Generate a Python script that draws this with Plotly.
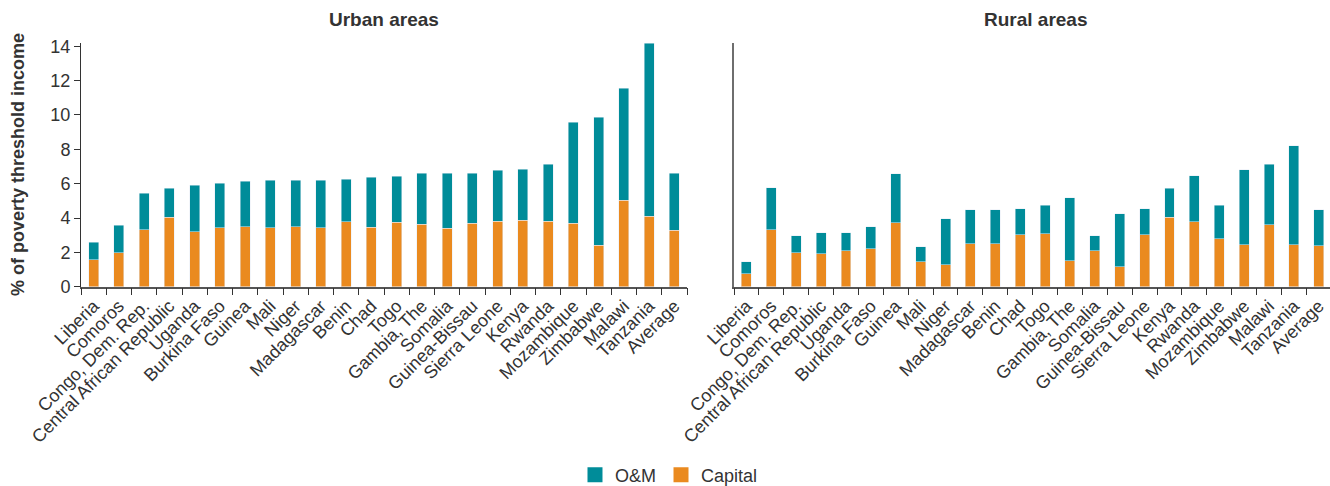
import plotly.graph_objects as go

countries_urban = ["Liberia", "Comoros", "Congo, Dem. Rep.", "Central African Republic", "Uganda",
                   "Burkina Faso", "Guinea", "Mali", "Niger", "Madagascar", "Benin", "Chad", "Togo",
                   "Gambia, The", "Somalia", "Guinea-Bissau", "Sierra Leone", "Kenya", "Rwanda",
                   "Mozambique", "Zimbabwe", "Malawi", "Tanzania", "Average"]
urban_total = [2.60, 3.59, 5.45, 5.74, 5.91, 6.03, 6.15, 6.21, 6.21, 6.21, 6.26, 6.38, 6.44,
               6.61, 6.61, 6.61, 6.79, 6.85, 7.14, 9.58, 9.87, 11.56, 14.17, 6.61]
urban_capital = [1.57, 1.98, 3.32, 4.05, 3.20, 3.43, 3.49, 3.43, 3.49, 3.43, 3.78, 3.47, 3.76,
                 3.65, 3.41, 3.70, 3.82, 3.88, 3.82, 3.70, 2.42, 5.04, 4.11, 3.30]

countries_rural = countries_urban
rural_total = [1.46, 5.77, 2.97, 3.15, 3.15, 3.50, 6.59, 2.33, 3.97, 4.49, 4.49, 4.55, 4.73,
               5.19, 2.97, 4.26, 4.55, 5.72, 6.47, 4.73, 6.82, 7.12, 8.22, 4.49]
rural_capital = [0.76, 3.32, 1.98, 1.92, 2.10, 2.22, 3.73, 1.46, 1.28, 2.51, 2.51, 3.03, 3.09,
                 1.52, 2.10, 1.17, 3.03, 4.03, 3.79, 2.80, 2.45, 3.62, 2.45, 2.39]

urban_om = [round(t - c, 2) for t, c in zip(urban_total, urban_capital)]
rural_om = [round(t - c, 2) for t, c in zip(rural_total, rural_capital)]

TEAL = "#008C99"
ORANGE = "#EA8A1F"
TXT = "#333333"
FONT = "Liberation Sans, Arial, Helvetica, sans-serif"

W, H = 1330, 486

fig = go.Figure()
fig.add_trace(go.Bar(x=countries_urban, y=urban_capital, name="Capital", marker_color=ORANGE,
                     width=0.4, xaxis="x", yaxis="y", showlegend=False))
fig.add_trace(go.Bar(x=countries_urban, y=urban_om, name="O&M", marker_color=TEAL,
                     width=0.4, xaxis="x", yaxis="y", showlegend=False))
fig.add_trace(go.Bar(x=countries_rural, y=rural_capital, name="Capital", marker_color=ORANGE,
                     width=0.4, xaxis="x2", yaxis="y2", showlegend=False))
fig.add_trace(go.Bar(x=countries_rural, y=rural_om, name="O&M", marker_color=TEAL,
                     width=0.4, xaxis="x2", yaxis="y2", showlegend=False))
# legend entries with larger square swatches
fig.add_trace(go.Scatter(x=[None], y=[None], mode="markers", name="O&M",
                         marker=dict(symbol="square", size=15, color=TEAL), xaxis="x", yaxis="y"))
fig.add_trace(go.Scatter(x=[None], y=[None], mode="markers", name="Capital",
                         marker=dict(symbol="square", size=15, color=ORANGE), xaxis="x", yaxis="y"))

ydom = [(H - 286.7) / H, (H - 42.8) / H]
common_x = dict(type="category", tickangle=-45, ticks="outside", tickson="boundaries",
                ticklen=7, tickcolor="#333333", showgrid=False, zeroline=False,
                showline=True, linewidth=1.5, linecolor="#555555",
                tickfont=dict(family=FONT, size=18, color=TXT), automargin=False)

fig.update_layout(
    width=W, height=H,
    margin=dict(l=0, r=0, t=0, b=0, autoexpand=False),
    paper_bgcolor="white", plot_bgcolor="white",
    barmode="stack", bargap=0.6,
    font=dict(family=FONT, color=TXT),
    xaxis=dict(domain=[81 / W, 687 / W], range=[-0.5, 23.5], anchor="y", **common_x),
    xaxis2=dict(domain=[734 / W, 1.0], range=[-0.5, 23.45], anchor="y2", **common_x),
    yaxis=dict(domain=ydom, range=[0, 14.2], anchor="x", tickvals=[0, 2, 4, 6, 8, 10, 12, 14],
               ticks="outside", ticklen=6, tickcolor="#333333", showgrid=False, zeroline=False,
               showline=True, linewidth=1, linecolor="#333333",
               tickfont=dict(family=FONT, size=18, color=TXT), automargin=False),
    yaxis2=dict(domain=ydom, range=[0, 14.2], anchor="x2", showticklabels=False, ticks="",
                showgrid=False, zeroline=False, showline=True, linewidth=2, linecolor="#6e6e6e",
                automargin=False),
    legend=dict(orientation="h", x=0.503, xanchor="center", y=(H - 475) / H, yanchor="middle",
                traceorder="normal", itemwidth=30, font=dict(family=FONT, size=18, color=TXT)),
    annotations=[
        dict(text="<b>Urban areas</b>", x=384 / W, y=(H - 19.5) / H, xref="paper", yref="paper",
             xanchor="center", yanchor="middle",
             showarrow=False, font=dict(family=FONT, size=19, color=TXT)),
        dict(text="<b>Rural areas</b>", x=1036 / W, y=(H - 19.5) / H, xref="paper", yref="paper",
             xanchor="center", yanchor="middle",
             showarrow=False, font=dict(family=FONT, size=19, color=TXT)),
        dict(text="<b>% of poverty threshold income</b>", x=18 / W, y=(H - 165) / H,
             xref="paper", yref="paper", xanchor="center", yanchor="middle",
             showarrow=False, textangle=-90,
             font=dict(family=FONT, size=18, color=TXT)),
    ],
)

fig.write_html("out.html", config={"displayModeBar": False},
               post_script="document.body.style.margin='0';")
